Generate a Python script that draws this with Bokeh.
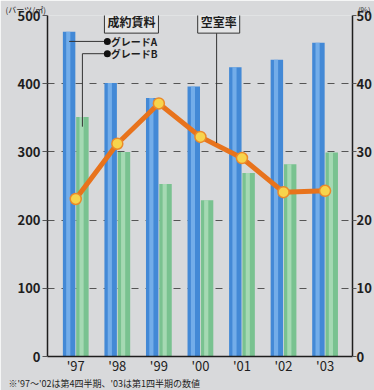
from bokeh.plotting import figure
from bokeh.models import Range1d, LinearAxis, FixedTicker, Label, ColumnDataSource, CustomJSTickFormatter, Title
from bokeh.core.properties import value
from bokeh.embed import file_html
from bokeh.resources import INLINE

years = ["'97", "'98", "'99", "'00", "'01", "'02", "'03"]
grade_a = [476, 401, 379, 396, 424, 435, 460]
grade_b = [351, 300, 253, 229, 269, 282, 299]
vacancy = [23.1, 31.2, 37.1, 32.2, 29.1, 24.1, 24.3]
left_ticks = [0, 100, 200, 300, 400, 500]
right_ticks = [0, 10, 20, 30, 40, 50]

FONT = "Noto Sans CJK JP"
BG = "#d8d9db"
TXT = "#1e1e1e"

xs = list(range(len(years)))
src = ColumnDataSource(dict(
    xa=[x - 0.16 for x in xs], xb=[x + 0.16 for x in xs],
    xah=[x - 0.18 for x in xs], xbh=[x + 0.14 for x in xs],
    a=grade_a, b=grade_b, x=xs, v=vacancy,
))

p = figure(width=374, height=390, output_backend="svg", toolbar_location=None,
           x_range=Range1d(-0.68, 6.66), y_range=Range1d(0, 500),
           min_border_left=47, min_border_right=0, min_border_top=15, min_border_bottom=0)
p.background_fill_color = BG
p.border_fill_color = BG
p.outline_line_color = None
p.extra_y_ranges = {"vac": Range1d(0, 50)}

# units title (above) and footnote (below)
p.add_layout(Title(text="(バーツ/㎡)" + "\u3000" * 39 + "(%)", align="left", offset=-42,
                   text_font=FONT, text_font_size="8px", text_font_style="normal",
                   text_color=TXT, standoff=2), "above")
p.add_layout(Title(text="※'97～'02は第4四半期、'03は第1四半期の数値", align="left", offset=-39,
                   text_font=FONT, text_font_size="9px", text_font_style="normal",
                   text_color=TXT, standoff=-2, vertical_align="top"), "below")

# bars
p.vbar(x="xa", top="a", width=0.30, source=src, fill_color="#4389d6", line_color=None)
p.vbar(x="xah", top="a", width=0.10, source=src, fill_color="#80b7ee", line_color=None, fill_alpha=0.8)
p.vbar(x="xb", top="b", width=0.30, source=src, fill_color="#79c290", line_color=None)
p.vbar(x="xbh", top="b", width=0.10, source=src, fill_color="#b0debb", line_color=None, fill_alpha=0.8)

# grid
p.xgrid.grid_line_color = None
p.ygrid.ticker = FixedTicker(ticks=left_ticks[1:-1])
p.ygrid.grid_line_color = "#555555"
p.ygrid.grid_line_dash = "7 7"
p.ygrid.grid_line_width = 1
p.ygrid.level = "underlay"

# vacancy line
p.line(x="x", y="v", source=src, y_range_name="vac", line_color="#e8731c", line_width=5)
p.scatter(x="x", y="v", source=src, y_range_name="vac", size=11, fill_color="#f7d44c",
          line_color="#eb8a2a", line_width=1.5)

# axes
ly = p.yaxis[0]
ly.ticker = FixedTicker(ticks=left_ticks)
ly.axis_line_color = TXT
ly.axis_line_width = 1.5
ly.major_tick_out = 5
ly.major_tick_in = 0
ly.minor_tick_line_color = None
ly.major_tick_line_color = "#555555"
ly.major_label_text_font = FONT
ly.major_label_text_font_style = "bold"
ly.major_label_text_font_size = "13px"
ly.major_label_text_color = TXT
ly.major_label_standoff = 2

ry = LinearAxis(y_range_name="vac", ticker=FixedTicker(ticks=right_ticks))
ry.axis_line_color = TXT
ry.axis_line_width = 1.5
ry.major_tick_out = 4
ry.major_tick_in = 0
ry.minor_tick_line_color = None
ry.major_tick_line_color = "#555555"
ry.major_label_text_font = FONT
ry.major_label_text_font_style = "bold"
ry.major_label_text_font_size = "13px"
ry.major_label_text_color = TXT
ry.major_label_standoff = 0
ry.axis_label_standoff = 0
p.add_layout(ry, "right")

xa = p.xaxis[0]
xa.ticker = FixedTicker(ticks=xs)
xa.formatter = CustomJSTickFormatter(args=dict(labels=years), code="return labels[Math.round(tick)];")
xa.axis_line_color = TXT
xa.axis_line_width = 1.5
xa.major_tick_out = 0
xa.major_tick_in = 0
xa.major_tick_line_color = None
xa.minor_tick_line_color = None
xa.major_label_text_font = FONT
xa.major_label_text_font_size = "13px"
xa.major_label_text_color = TXT
xa.major_label_standoff = -1
xa.axis_label_standoff = 0

# annotation boxes
def boxlabel(x, y, t):
    p.add_layout(Label(x=x, y=y, text=t, text_font=FONT, text_font_style="bold",
                       text_font_size="12px", text_color=TXT, text_align="center",
                       text_baseline="middle", border_line_color="#333333",
                       border_line_width=1, background_fill_color="#e4e5e6",
                       padding=3))

boxlabel(1.34, 491, "成約賃料")
boxlabel(3.44, 491, "空室率")

# leader lines
lc = "#333333"
p.line(x=[xs[0] - 0.16, 0.76], y=[462, 462], line_color=lc, line_width=1)
p.line(x=[xs[0] + 0.16, xs[0] + 0.16, 0.76], y=[337, 444, 444], line_color=lc, line_width=1)
p.line(x=[3.39, 3.39], y=[478, 313], line_color=lc, line_width=1)
p.scatter(x=[0.76, 0.76], y=[462, 444], size=7, fill_color="#111111", line_color=None)
for yv, t in [(462, "グレードA"), (444, "グレードB")]:
    p.add_layout(Label(x=0.84, y=yv, text=t, text_font=FONT, text_font_style="bold",
                       text_font_size="10px", text_color=TXT, text_baseline="middle"))

open("out.html", "w").write(file_html(p, INLINE))
